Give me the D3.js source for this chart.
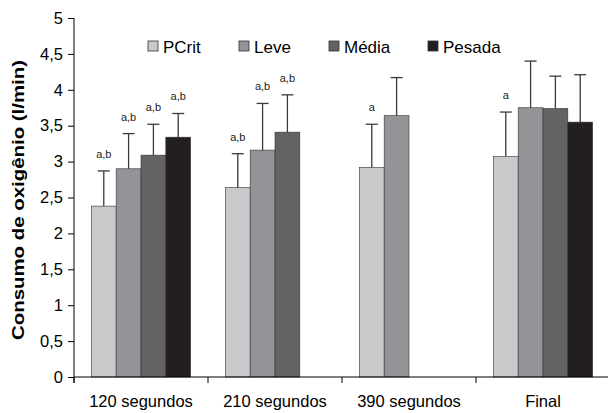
<!DOCTYPE html>
<html>
<head>
<meta charset="utf-8">
<script src="https://cdn.jsdelivr.net/npm/d3@7"></script>
<style>
  body { margin: 0; background: #fff; }
  text { font-family: "Liberation Sans", Arial, sans-serif; }
</style>
</head>
<body>
<div id="chart"></div>
<script>
// Data
var categories = ["120 segundos", "210 segundos", "390 segundos", "Final"];
var seriesNames = ["PCrit", "Leve", "Média", "Pesada"];
var colors = ["#c8c9cb", "#939498", "#636365", "#231f20"];

// means (null = no bar)
var pcrit  = [2.38, 2.64, 2.92, 3.07];
var leve   = [2.90, 3.16, 3.64, 3.75];
var media  = [3.09, 3.41, null, 3.74];
var pesada = [3.34, null, null, 3.55];

// upper end of the error bars
var pcritErr  = [2.87, 3.11, 3.52, 3.69];
var leveErr   = [3.39, 3.81, 4.17, 4.40];
var mediaErr  = [3.52, 3.93, null, 4.19];
var pesadaErr = [3.67, null, null, 4.21];

// significance letters above each bar
var pcritSig  = ["a,b", "a,b", "a", "a"];
var leveSig   = ["a,b", "a,b", "", ""];
var mediaSig  = ["a,b", "a,b", "", ""];
var pesadaSig = ["a,b", "", "", ""];

var yTicks = [0, 0.5, 1, 1.5, 2, 2.5, 3, 3.5, 4, 4.5, 5];

var means = [pcrit, leve, media, pesada];
var errs = [pcritErr, leveErr, mediaErr, pesadaErr];
var sigs = [pcritSig, leveSig, mediaSig, pesadaSig];

var data = [];
categories.forEach(function(c, ci) {
  seriesNames.forEach(function(s, si) {
    if (means[si][ci] != null) {
      data.push({cat: c, series: s, si: si, value: means[si][ci], err: errs[si][ci], sig: sigs[si][ci]});
    }
  });
});

var width = 608, height = 413;
var margin = {top: 18, left: 74, bottom: 36};

var svg = d3.select("#chart").append("svg")
  .attr("width", width)
  .attr("height", height);

var x = d3.scaleBand()
  .domain(categories)
  .range([margin.left, margin.left + 536])
  .paddingInner(0)
  .paddingOuter(0);

var xs = d3.scaleBand()
  .domain(seriesNames)
  .range([0, x.bandwidth()])
  .paddingOuter(0.7)
  .paddingInner(0);

var y = d3.scaleLinear()
  .domain([0, 5])
  .range([377, margin.top]);

var color = d3.scaleOrdinal().domain(seriesNames).range(colors);

// bars
svg.append("g").selectAll("rect")
  .data(data)
  .enter().append("rect")
  .attr("x", d => x(d.cat) + xs(d.series))
  .attr("y", d => y(d.value))
  .attr("width", xs.bandwidth())
  .attr("height", d => y(0) - y(d.value))
  .attr("fill", d => color(d.series))
  .attr("stroke", "#333")
  .attr("stroke-width", 0.6);

// error bars
var eb = svg.append("g").attr("stroke", "#3a3a3a").attr("stroke-width", 1.3);
eb.selectAll("line.v")
  .data(data)
  .enter().append("line")
  .attr("x1", d => x(d.cat) + xs(d.series) + xs.bandwidth() / 2)
  .attr("x2", d => x(d.cat) + xs(d.series) + xs.bandwidth() / 2)
  .attr("y1", d => y(d.value))
  .attr("y2", d => y(d.err));
eb.selectAll("line.c")
  .data(data)
  .enter().append("line")
  .attr("x1", d => x(d.cat) + xs(d.series) + xs.bandwidth() / 2 - 6)
  .attr("x2", d => x(d.cat) + xs(d.series) + xs.bandwidth() / 2 + 6)
  .attr("y1", d => y(d.err))
  .attr("y2", d => y(d.err));

// significance letters
svg.append("g").selectAll("text")
  .data(data.filter(d => d.sig))
  .enter().append("text")
  .attr("x", d => x(d.cat) + xs(d.series) + xs.bandwidth() / 2)
  .attr("y", d => y(d.err) - 13)
  .attr("text-anchor", "middle")
  .attr("font-size", 11)
  .attr("fill", "#222")
  .text(d => d.sig);

// y axis
var yAxis = d3.axisLeft(y)
  .tickValues(yTicks)
  .tickSize(6)
  .tickFormat(d => String(d).replace(".", ","));
var gy = svg.append("g")
  .attr("transform", "translate(" + margin.left + ",0)")
  .call(yAxis);
gy.select(".domain").attr("d", "M0," + y(5) + "V" + (y(0) + 6)).attr("stroke", "#000");
gy.selectAll(".tick line").attr("stroke", "#000");
gy.selectAll(".tick text").attr("font-size", 16.5).attr("fill", "#000")
  .attr("font-family", "Liberation Sans, Arial, sans-serif").attr("x", -11);

// x axis
var xAxis = d3.axisBottom(x).tickSize(0).tickPadding(18);
var gx = svg.append("g")
  .attr("transform", "translate(0," + y(0) + ")")
  .call(xAxis);
gx.select(".domain").attr("d", "M" + margin.left + ",0H" + (margin.left + 536)).attr("stroke", "#000");
gx.selectAll(".tick text").attr("font-size", 16.5).attr("fill", "#000")
  .attr("font-family", "Liberation Sans, Arial, sans-serif");
// separators between categories
gx.selectAll("line.sep")
  .data(categories)
  .enter().append("line")
  .attr("class", "sep")
  .attr("x1", d => x(d)).attr("x2", d => x(d))
  .attr("y1", 0).attr("y2", 6)
  .attr("stroke", "#000");

// y title
svg.append("text")
  .attr("transform", "translate(24,200) rotate(-90)")
  .attr("text-anchor", "middle")
  .attr("font-size", 16)
  .attr("font-weight", "bold")
  .attr("textLength", 280)
  .attr("lengthAdjust", "spacingAndGlyphs")
  .text("Consumo de oxigênio (l/min)");

// legend
var legendX = [148, 239, 329, 428];
var lg = svg.append("g").selectAll("g")
  .data(seriesNames)
  .enter().append("g")
  .attr("transform", (d, i) => "translate(" + legendX[i] + ",41)");
lg.append("rect")
  .attr("width", 10).attr("height", 10)
  .attr("fill", d => color(d))
  .attr("stroke", "#333").attr("stroke-width", 0.8);
lg.append("text")
  .attr("x", 15).attr("y", 11.5)
  .attr("font-size", 17)
  .text(d => d);
</script>
</body>
</html>
